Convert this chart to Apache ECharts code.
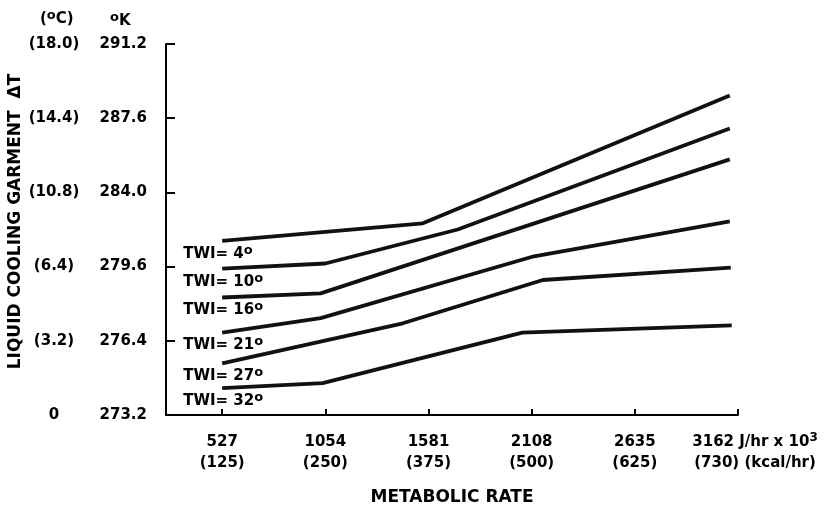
<!DOCTYPE html>
<html>
<head>
<meta charset="utf-8">
<script src="https://cdn.jsdelivr.net/npm/echarts@6/dist/echarts.min.js"></script>
<style>
html,body{margin:0;padding:0;background:#fff;}
#main{width:833px;height:508px;}
</style>
</head>
<body>
<div id="main"></div>
<script>
//x轴刻度 J/hr x 10^3 及 kcal/hr
var xTicks = [527, 1054, 1581, 2108, 2635, 3162];
var xKcal = ['125', '250', '375', '500', '625', '730'];
//y轴刻度 oK 和 (oC)
var yKLabels = ['273.2', '276.4', '279.6', '284.0', '287.6', '291.2'];
var yCLabels = ['0', '(3.2)', '(6.4)', '(10.8)', '(14.4)', '(18.0)'];

//每条线 [代谢率, ΔT oC]
var twi = [4, 10, 16, 21, 27, 32];
var line4 = [[527, 8.45], [1552, 9.3], [3120, 15.5]];
var line10 = [[527, 7.1], [1054, 7.35], [1730, 9.0], [3120, 13.9]];
var line16 = [[527, 5.7], [1030, 5.9], [3120, 12.4]];
var line21 = [[527, 4.0], [1030, 4.7], [2120, 7.7], [3120, 9.4]];
var line27 = [[527, 2.5], [1450, 4.45], [2165, 6.55], [3125, 7.15]];
var line32 = [[527, 1.3], [1040, 1.55], [2060, 4.0], [3130, 4.35]];
var lines = [line4, line10, line16, line21, line27, line32];

var FONT = 'DejaVu Sans';
var supStyle = {fontFamily: FONT, fontWeight: 'bold', fontSize: 13, color: '#000', verticalAlign: 'top', lineHeight: 10};
var txtStyle = {fontFamily: FONT, fontWeight: 'bold', fontSize: 15, color: '#000', lineHeight: 20};

var myChart = echarts.init(document.getElementById('main'));

var series = [];
for (var i = 0; i < lines.length; i++) {
    var data = [];
    for (var j = 0; j < lines[i].length; j++) {
        var item = {value: lines[i][j]};
        if (j == 0) {
            item.label = {
                show: true,
                position: 'bottom',
                distance: 3,
                align: 'left',
                offset: [-39, 0],
                formatter: '{a|TWI= ' + twi[i] + '}{s|o}',
                rich: {a: txtStyle, s: supStyle}
            };
        }
        data.push(item);
    }
    series.push({
        type: 'line',
        data: data,
        showSymbol: true,
        symbol: 'circle',
        symbolSize: 0,
        lineStyle: {color: '#111', width: 3.8},
        itemStyle: {color: '#111'},
        label: {show: false},
        emphasis: {disabled: true},
        animation: false
    });
}

function yIndex(v) {
    return Math.round(v / 3.6);
}

var option = {
    backgroundColor: '#fff',
    animation: false,
    grid: {left: 166, top: 44, right: 95, bottom: 93, outerBoundsMode: 'none', containLabel: false},
    xAxis: {
        type: 'value',
        min: 240,
        max: 3162,
        splitLine: {show: false},
        axisLine: {lineStyle: {color: '#000', width: 2}},
        axisTick: {customValues: xTicks, inside: true, length: 6, lineStyle: {color: '#000', width: 2}},
        axisLabel: {
            customValues: xTicks,
            margin: 17,
            formatter: function (v) {
                var idx = xTicks.indexOf(v);
                if (idx == xTicks.length - 1) {
                    return '{u|' + v + ' J/hr x 10}{s|3}\n{u|(' + xKcal[idx] + ') (kcal/hr)}';
                }
                return '{n|' + v + '}\n{n|(' + xKcal[idx] + ')}';
            },
            rich: {
                n: {fontFamily: FONT, fontWeight: 'bold', fontSize: 15, color: '#000', lineHeight: 21},
                u: {fontFamily: FONT, fontWeight: 'bold', fontSize: 15, color: '#000', lineHeight: 21, padding: [0, 0, 0, 34]},
                s: {fontFamily: FONT, fontWeight: 'bold', fontSize: 12, color: '#000', lineHeight: 12, verticalAlign: 'top'}
            }
        },
        name: 'METABOLIC RATE',
        nameLocation: 'middle',
        nameGap: 74,
        nameMoveOverlap: false,
        nameTextStyle: {fontFamily: FONT, fontWeight: 'bold', fontSize: 17, color: '#000'}
    },
    yAxis: [
        {
            type: 'value',
            min: 0,
            max: 18,
            interval: 3.6,
            position: 'left',
            splitLine: {show: false},
            axisLine: {show: true, lineStyle: {color: '#000', width: 2}},
            axisTick: {show: true, inside: true, length: 9, lineStyle: {color: '#000', width: 2}},
            axisLabel: {
                margin: 19,
                fontFamily: FONT, fontWeight: 'bold', fontSize: 15, color: '#000',
                formatter: function (v) { return yKLabels[yIndex(v)]; }
            }
        },
        {
            type: 'value',
            min: 0,
            max: 18,
            interval: 3.6,
            position: 'left',
            splitLine: {show: false},
            axisLine: {show: false},
            axisTick: {show: false},
            axisLabel: {
                margin: 112,
                align: 'center',
                fontFamily: FONT, fontWeight: 'bold', fontSize: 15, color: '#000',
                formatter: function (v) { return yCLabels[yIndex(v)]; }
            },
            name: 'LIQUID COOLING GARMENT  \u0394T',
            nameLocation: 'middle',
            nameGap: 142,
            nameMoveOverlap: false,
            nameTextStyle: {fontFamily: FONT, fontWeight: 'bold', fontSize: 17, color: '#000', padding: [0, 0, 0, 16]}
        }
    ],
    graphic: [
        {
            type: 'text',
            left: 40,
            top: 9,
            style: {
                text: '{a|(}{s|o}{a|C)}',
                rich: {a: txtStyle, s: supStyle}
            }
        },
        {
            type: 'text',
            left: 110,
            top: 11,
            style: {
                text: '{s|o}{a|K}',
                rich: {a: txtStyle, s: supStyle}
            }
        }
    ],
    series: series
};

myChart.setOption(option);
</script>
</body>
</html>
